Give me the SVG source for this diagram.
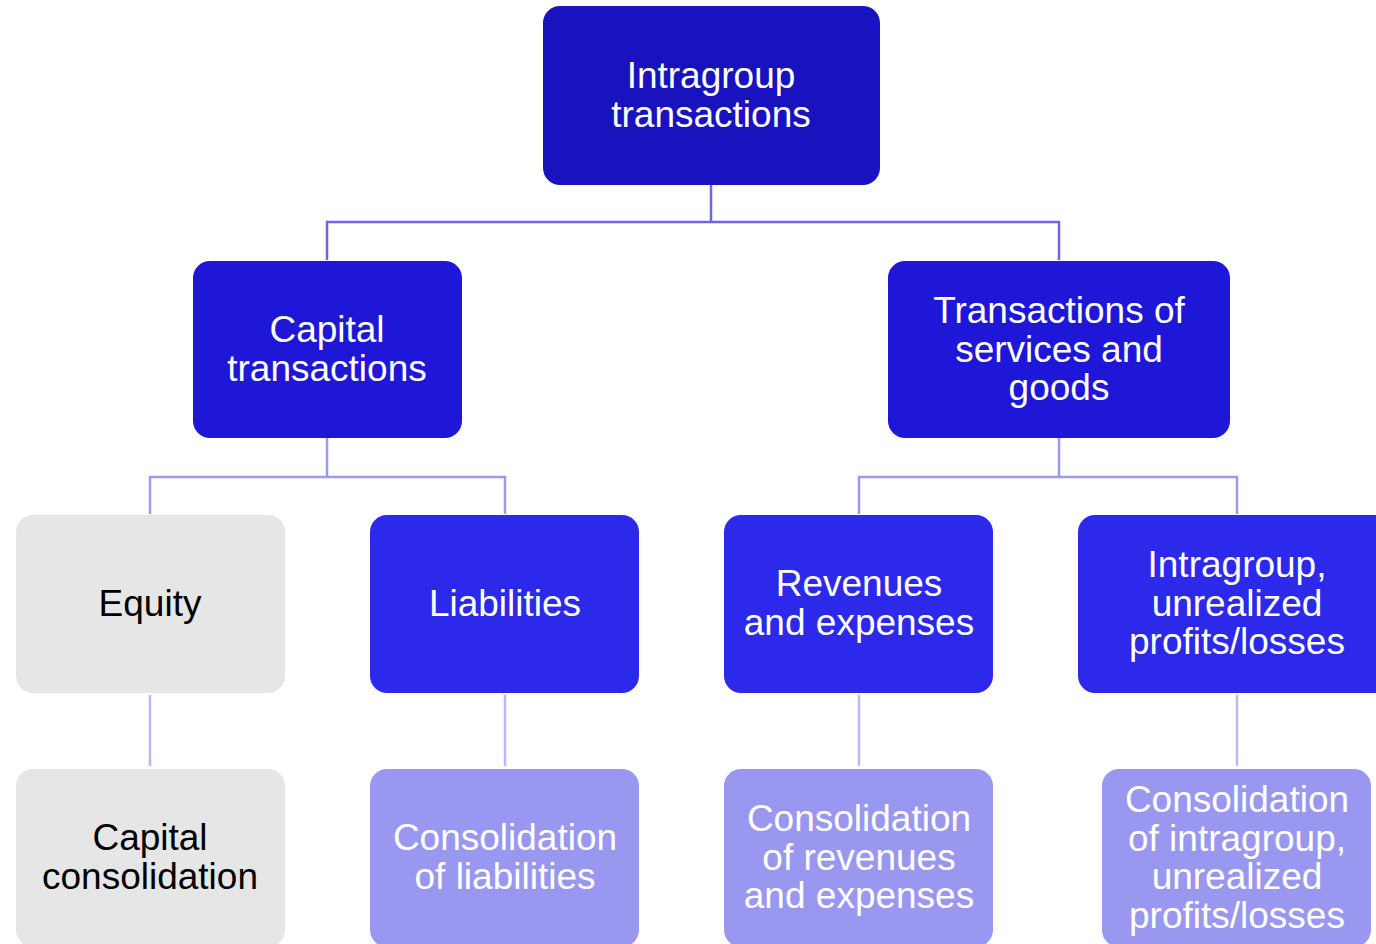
<svg xmlns="http://www.w3.org/2000/svg" width="1376" height="944" viewBox="0 0 1376 944">
<style>
text{font-family:"Liberation Sans",Arial,sans-serif;font-size:37px;text-anchor:middle}
.w{fill:#ffffff}.k{fill:#000000}
.c1{stroke:#6b67e6;stroke-width:2.5;fill:none}
.c2{stroke:#9c99f0;stroke-width:2.5;fill:none}
.c3{stroke:#bab8f5;stroke-width:2.5;fill:none}
</style>
<rect width="1376" height="944" fill="#ffffff"/>
<g id="connectors">
<path class="c1" d="M711 185V222M327 260V222H1059V260"/>
<path class="c2" d="M327 438V477M150 514V477H505V514M1059 438V477M859 514V477H1237V514"/>
<path class="c3" d="M150 695V766M505 695V766M859 695V766M1237 695V766"/>
</g>
<g id="n-top"><rect x="543" y="6" width="337" height="179" rx="17" fill="#1813be"/><text class="w" x="711" y="88">Intragroup</text><text class="w" x="711" y="126.5">transactions</text></g>
<g id="n-capital"><rect x="193" y="261" width="269" height="177" rx="17" fill="#1f17d8"/><text class="w" x="327" y="342">Capital</text><text class="w" x="327" y="380.5">transactions</text></g>
<g id="n-services"><rect x="888" y="261" width="342" height="177" rx="17" fill="#1f17d8"/><text class="w" x="1059" y="323">Transactions of</text><text class="w" x="1059" y="361.5">services and</text><text class="w" x="1059" y="400">goods</text></g>
<g id="n-equity"><rect x="16" y="515" width="269" height="178" rx="17" fill="#e6e6e6"/><text class="k" x="150" y="615.5">Equity</text></g>
<g id="n-liabilities"><rect x="370" y="515" width="269" height="178" rx="17" fill="#2c29eb"/><text class="w" x="505" y="615.5">Liabilities</text></g>
<g id="n-revenues"><rect x="724" y="515" width="269" height="178" rx="17" fill="#2c29eb"/><text class="w" x="859" y="596">Revenues</text><text class="w" x="859" y="634.5">and expenses</text></g>
<g id="n-intragroup"><rect x="1078" y="515" width="318" height="178" rx="17" fill="#2c29eb"/><text class="w" x="1237" y="577">Intragroup,</text><text class="w" x="1237" y="615.5">unrealized</text><text class="w" x="1237" y="654">profits/losses</text></g>
<g id="n-capcons"><rect x="16" y="769" width="269" height="178" rx="17" fill="#e6e6e6"/><text class="k" x="150" y="850">Capital</text><text class="k" x="150" y="888.5">consolidation</text></g>
<g id="n-liabcons"><rect x="370" y="769" width="269" height="178" rx="17" fill="#9a97f0"/><text class="w" x="505" y="850">Consolidation</text><text class="w" x="505" y="888.5">of liabilities</text></g>
<g id="n-revcons"><rect x="724" y="769" width="269" height="178" rx="17" fill="#9a97f0"/><text class="w" x="859" y="831">Consolidation</text><text class="w" x="859" y="869.5">of revenues</text><text class="w" x="859" y="908">and expenses</text></g>
<g id="n-intracons"><rect x="1102" y="769" width="269" height="178" rx="17" fill="#9a97f0"/><text class="w" x="1237" y="812">Consolidation</text><text class="w" x="1237" y="850.5">of intragroup,</text><text class="w" x="1237" y="889">unrealized</text><text class="w" x="1237" y="927.5">profits/losses</text></g>
</svg>
